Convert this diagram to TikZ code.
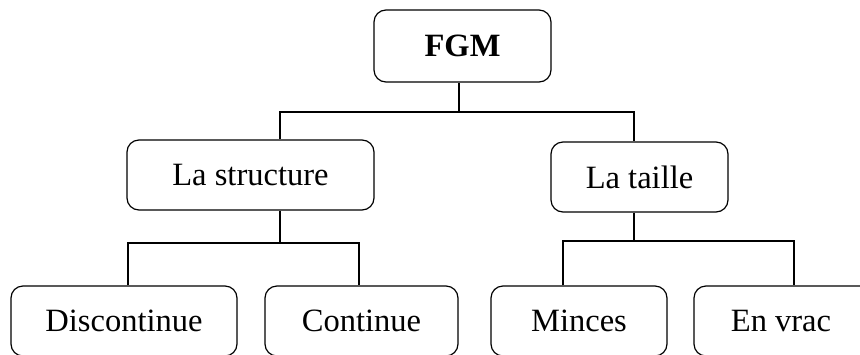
\documentclass[tikz,border=0pt]{standalone}
\usepackage{fontspec}
\setmainfont{Liberation Serif}
\usepackage{tikz}

\begin{document}
\begin{tikzpicture}[x=0.75pt,y=-0.75pt,line width=0.9pt,
  rbox/.style={shape=rectangle, rounded corners=9pt, draw, inner sep=0pt,
    minimum height=52.5pt, font=\fontsize{24.4}{29}\selectfont}]
\useasboundingbox (0,0) rectangle (860,354);
\node[rbox, minimum width=132.75pt, minimum height=54pt] (fgm) at (462.5,46) {\textbf{FGM}};
\node[rbox, minimum width=185.25pt] (struct) at (250.5,175) {La structure};
\node[rbox, minimum width=132.75pt] (taille) at (639.5,177) {La taille};
\node[rbox, minimum width=169.5pt] (discont) at (124,321) {Discontinue};
\node[rbox, minimum width=144.75pt] (cont) at (361.5,321) {Continue};
\node[rbox, minimum width=132pt] (minces) at (579,321) {Minces};
\node[rbox, minimum width=139.5pt] (vrac) at (787,321) {\hspace*{-9pt}En vrac};
% bus lines
\coordinate (b0) at (459,112);
\coordinate (b0l) at (280,112);
\coordinate (b0r) at (634,112);
\draw (fgm.south -| b0) -- (b0);
\draw (struct.north -| b0l) |- (b0r) -- (taille.north -| b0r);
\coordinate (b1) at (280,243);
\coordinate (b1l) at (128,243);
\coordinate (b1r) at (359,243);
\draw (struct.south -| b1) -- (b1);
\draw (discont.north -| b1l) |- (b1r) -- (cont.north -| b1r);
\coordinate (b2) at (634,241);
\coordinate (b2l) at (563,241);
\coordinate (b2r) at (794,241);
\draw (taille.south -| b2) -- (b2);
\draw (minces.north -| b2l) |- (b2r) -- (vrac.north -| b2r);
\end{tikzpicture}
\end{document}
